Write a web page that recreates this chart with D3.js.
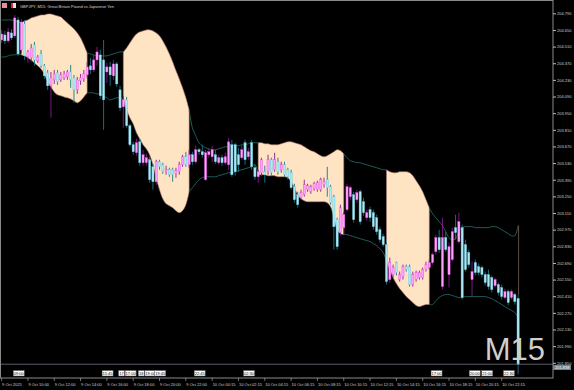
<!DOCTYPE html>
<html>
<head>
<meta charset="utf-8">
<script src="https://cdn.jsdelivr.net/npm/d3@7"></script>
<style>
  body { margin: 0; background: #000; }
  svg { display: block; }
</style>
</head>
<body>
<svg id="chart" width="574" height="390"></svg>
<script>
// GBPJPY M15 candles, 9 Oct 08:00 -> 10 Oct 23:30
const opens = [204.566,204.608,204.558,204.625,204.600,204.734,204.482,204.700,204.423,204.415,
  204.524,204.390,204.448,204.348,204.289,204.180,204.230,204.289,204.230,204.247,
  204.255,204.297,204.247,204.146,204.222,204.238,204.272,204.348,204.314,204.398,
  204.440,204.398,204.297,204.339,204.264,204.364,204.146,204.003,204.062,203.844,
  203.684,203.617,203.709,203.533,203.533,203.558,203.499,203.373,203.541,203.516,
  203.457,203.474,203.474,203.440,203.457,203.516,203.583,203.516,203.600,203.541,
  203.642,203.625,203.390,203.600,203.583,203.600,203.533,203.575,203.533,203.516,
  203.684,203.684,203.600,203.575,203.701,203.583,203.701,203.491,203.415,203.449,
  203.457,203.457,203.558,203.474,203.541,203.474,203.516,203.474,203.449,203.331,
  203.264,203.239,203.264,203.306,203.289,203.314,203.306,203.306,203.348,203.390,
  203.331,203.247,203.054,202.945,202.987,203.138,203.247,203.264,203.222,203.289,
  203.205,203.071,203.138,203.113,203.071,202.970,202.911,202.844,202.550,202.592,
  202.693,202.550,202.575,202.659,202.659,202.508,202.550,202.567,202.567,202.634,
  202.651,202.693,202.785,202.903,202.491,202.903,202.592,202.718,202.987,202.869,
  202.987,202.844,202.777,202.550,202.693,202.659,202.651,202.592,202.592,202.567,
  202.499,202.508,202.483,202.399,202.449,202.399,202.424,202.390];
const highs = [204.650,204.642,204.667,204.658,204.776,204.759,204.742,204.734,204.482,204.532,
  204.549,204.440,204.482,204.364,204.314,204.297,204.314,204.314,204.297,204.306,
  204.314,204.356,204.272,204.255,204.280,204.314,204.381,204.415,204.440,204.507,
  204.482,204.566,204.373,204.381,204.398,204.381,204.180,204.096,204.087,203.860,
  203.709,203.734,203.734,203.642,203.608,203.583,203.524,203.558,203.558,203.533,
  203.508,203.491,203.491,203.491,203.541,203.600,203.625,203.642,203.625,203.676,
  203.659,203.684,203.642,203.650,203.676,203.642,203.600,203.600,203.617,203.743,
  203.726,203.701,203.659,203.676,203.726,203.659,203.726,203.524,203.474,203.575,
  203.508,203.600,203.575,203.617,203.575,203.541,203.541,203.491,203.474,203.356,
  203.289,203.306,203.390,203.356,203.348,203.373,203.382,203.407,203.407,203.499,
  203.348,203.264,203.071,203.180,203.121,203.356,203.340,203.289,203.306,203.306,
  203.239,203.138,203.163,203.138,203.096,202.995,202.936,202.861,202.735,202.676,
  202.701,202.617,202.676,202.676,202.676,202.617,202.626,202.626,202.651,202.701,
  202.718,202.777,202.928,202.970,203.071,202.953,202.861,202.987,203.096,203.113,
  203.012,202.886,202.802,202.701,202.718,202.684,202.668,202.617,202.634,202.584,
  202.567,202.525,202.508,202.474,202.466,202.466,202.441,202.416];
const lows = [204.541,204.532,204.541,204.566,204.583,204.432,204.457,204.398,204.373,204.381,
  204.348,204.373,204.331,204.238,204.146,203.911,204.196,204.188,204.213,204.230,
  204.230,204.163,204.037,204.112,204.188,204.213,204.247,204.280,204.297,204.348,
  204.070,203.810,204.205,204.180,204.230,204.171,203.970,203.827,203.827,203.667,
  203.600,203.592,203.508,203.508,203.508,203.365,203.306,203.348,203.474,203.440,
  203.432,203.415,203.373,203.407,203.432,203.499,203.499,203.491,203.516,203.524,
  203.600,203.575,203.382,203.575,203.541,203.524,203.516,203.508,203.516,203.474,
  203.415,203.424,203.457,203.558,203.516,203.558,203.474,203.390,203.365,203.424,
  203.365,203.432,203.424,203.457,203.432,203.449,203.415,203.390,203.306,203.197,
  203.155,203.222,203.247,203.289,203.272,203.298,203.289,203.289,203.323,203.247,
  203.180,202.802,202.802,202.920,202.928,203.121,203.222,203.029,203.197,203.012,
  203.088,203.046,203.037,202.970,202.928,202.861,202.827,202.508,202.525,202.567,
  202.584,202.533,202.550,202.617,202.491,202.491,202.533,202.550,202.550,202.617,
  202.634,202.676,202.760,202.777,202.466,202.785,202.483,202.701,202.886,202.852,
  202.382,202.617,202.651,202.407,202.584,202.584,202.567,202.499,202.466,202.441,
  202.483,202.416,202.382,202.382,202.332,202.382,202.340,201.752];
const closes = [204.616,204.558,204.633,204.583,204.751,204.448,204.717,204.432,204.465,204.499,
  204.398,204.423,204.348,204.264,204.180,204.247,204.280,204.213,204.272,204.280,
  204.297,204.230,204.146,204.230,204.247,204.280,204.339,204.314,204.398,204.465,
  204.096,204.062,204.339,204.272,204.364,204.196,203.995,204.062,203.844,203.684,
  203.625,203.701,203.533,203.600,203.575,203.390,203.373,203.541,203.499,203.457,
  203.474,203.432,203.432,203.466,203.516,203.583,203.516,203.600,203.541,203.642,
  203.625,203.600,203.617,203.625,203.642,203.541,203.575,203.533,203.583,203.709,
  203.432,203.457,203.516,203.642,203.558,203.625,203.499,203.415,203.457,203.558,
  203.432,203.558,203.449,203.558,203.457,203.516,203.432,203.415,203.323,203.222,
  203.180,203.281,203.348,203.340,203.331,203.356,203.365,203.390,203.373,203.323,
  203.197,202.995,202.827,203.155,203.096,203.331,203.323,203.054,203.281,203.037,
  203.113,203.113,203.071,202.995,202.953,202.886,202.844,202.533,202.693,202.651,
  202.609,202.592,202.659,202.634,202.508,202.592,202.609,202.609,202.634,202.676,
  202.693,202.760,202.903,202.802,202.903,202.802,202.827,202.953,202.945,203.037,
  202.399,202.634,202.676,202.617,202.609,202.609,202.592,202.525,202.491,202.466,
  202.550,202.441,202.407,202.449,202.357,202.449,202.365,201.838];

// envelope indicator, upper / lower line per bar
const upperBand = [204.734,204.734,204.734,204.734,204.726,204.717,
  204.709,204.726,204.734,204.751,204.759,204.768,204.776,204.776,204.784,204.784,204.776,204.768,204.759,204.734,204.709,204.684,204.658,204.625,204.583,204.524,204.457,
  204.448,204.440,204.432,204.432,204.432,204.432,204.440,204.448,204.457,204.465,
  204.465,204.499,204.541,204.583,204.616,204.633,204.642,204.650,204.650,204.642,204.625,204.600,204.558,204.507,204.448,204.381,204.306,204.238,204.163,204.079,203.978,
  203.827,203.760,203.701,203.676,203.659,203.650,203.642,203.642,203.650,203.659,203.667,203.667,203.676,203.676,203.676,203.684,203.684,203.692,203.701,203.701,
  203.701,203.701,203.692,203.692,203.684,203.684,203.684,203.692,203.701,203.709,203.709,203.701,203.692,203.684,203.667,203.650,203.634,203.625,203.608,203.592,203.583,203.592,203.608,203.625,203.642,203.634,203.608,
  203.575,203.550,203.541,203.533,203.533,203.524,203.516,203.508,203.499,203.491,203.482,203.474,
  203.474,203.457,203.449,203.449,203.457,203.457,203.457,203.449,203.424,203.382,203.340,203.289,203.222,203.155,
  203.104,203.071,203.037,203.004,202.953,202.903,202.886,202.894,202.953,202.987,202.995,202.995,202.995,202.987,202.987,202.987,202.987,202.987,202.995,202.995,202.987,202.970,202.953,202.936,202.919,202.919,203.004];
const lowerBand = [204.423,204.423,204.432,204.440,204.440,204.448,
  204.440,204.432,204.415,204.398,204.373,204.348,204.322,204.280,204.213,204.171,204.129,204.104,204.096,204.087,204.079,204.070,204.054,204.037,204.054,204.087,204.121,
  204.121,204.121,204.112,204.112,204.096,204.079,204.062,204.070,204.079,204.079,
  204.062,203.978,203.911,203.860,203.785,203.734,203.684,203.650,203.600,203.516,203.407,203.306,203.230,203.188,203.172,203.155,203.130,203.113,203.130,203.180,203.289,
  203.323,203.356,203.390,203.407,203.415,203.415,203.415,203.415,203.424,203.432,203.440,203.449,203.449,203.457,203.466,203.474,203.482,203.491,203.499,203.516,
  203.432,203.432,203.432,203.424,203.424,203.424,203.415,203.415,203.415,203.407,203.373,203.323,203.264,203.230,203.214,203.205,203.205,203.205,203.205,203.205,203.205,203.197,203.163,203.071,202.970,202.937,202.928,
  202.928,202.920,202.911,202.903,202.894,202.886,202.878,202.869,202.852,202.836,202.810,202.777,
  202.701,202.634,202.567,202.516,202.474,202.441,202.407,202.382,202.357,202.332,202.323,202.332,202.340,202.340,
  202.340,202.373,202.399,202.416,202.424,202.424,202.416,202.407,202.399,202.399,202.407,202.407,202.407,202.407,202.407,202.407,202.407,202.399,202.390,202.373,202.357,202.340,202.323,202.306,202.290,202.273,202.231];

// shaded spans of the indicator (bar index from / to)
const shadeFrom = [6, 37, 78, 117];
const shadeTo = [26, 57, 104, 130];

const priceTicks = [204.790,204.650,204.510,204.370,204.230,204.090,203.950,203.810,203.670,203.530,203.390,
  203.250,203.110,202.970,202.830,202.690,202.550,202.410,202.270,202.130,201.990,201.850];
const timeTickBars = [0,8,16,24,32,40,48,56,64,72,80,88,96,104,112,120,128,136,144,152];
const timeTickLabels = ["9 Oct 2025","9 Oct 10:00","9 Oct 12:00","9 Oct 14:00","9 Oct 16:00","9 Oct 18:00",
  "9 Oct 20:00","9 Oct 22:00","10 Oct 00:15","10 Oct 02:15","10 Oct 04:15","10 Oct 06:15","10 Oct 08:15",
  "10 Oct 10:15","10 Oct 12:15","10 Oct 14:15","10 Oct 16:15","10 Oct 18:15","10 Oct 20:15","10 Oct 22:15"];

// vertical line objects, labels at the bottom (the cut ones are partly hidden by the next)
const markerBars = [4, 31, 36, 38, 42, 44, 47, 59, 74, 131, 142.6, 146.4, 153];
const markerLabels = ["09:00","15:45","17","17:00","18","19:00","19:45","22:45","02:30","17:00","20:00","21:00","22:30"];

const bidPrice = 201.838;
const titleText = "GBPJPY, M15:  Great Britain Pound vs Japanese Yen";

const W = 574, H = 390;
const plotRight = 553, plotBottom = 378;
const font = "'Liberation Sans', Arial, sans-serif";

const svg = d3.select("#chart");
svg.append("rect").attr("width", W).attr("height", H).attr("fill", "#000");

const x = d3.scaleLinear().domain([0, 157]).range([1.6, 518.1]);
const y = d3.scaleLinear().domain([201.823, 204.902]).range([366, 0]);

const plot = svg.append("g");

// shaded envelope spans
const area = d3.area()
  .x(i => x(i))
  .y0(i => y(lowerBand[i]))
  .y1(i => y(upperBand[i]))
  .curve(d3.curveCatmullRom);

shadeFrom.forEach((s, k) => {
  plot.append("path")
    .datum(d3.range(s, shadeTo[k] + 1))
    .attr("d", area)
    .attr("fill", "#ffe4c4")
    .attr("stroke", "#b07a70")
    .attr("stroke-width", 0.6);
});

// band lines where not shaded
let segments = [];
let prev = 0;
shadeFrom.forEach((s, k) => {
  segments.push(d3.range(prev, s + 1));
  prev = shadeTo[k];
});
segments.push(d3.range(prev, closes.length));

const bandLine = key => d3.line()
  .x(i => x(i))
  .y(i => y(key[i]))
  .curve(d3.curveCatmullRom);

segments.forEach(seg => {
  [upperBand, lowerBand].forEach(b => {
    plot.append("path")
      .datum(seg)
      .attr("d", bandLine(b))
      .attr("fill", "none")
      .attr("stroke", "#1f5e5a")
      .attr("stroke-width", 1);
  });
});

// vertical line at last bar
const last = closes.length - 1;
plot.append("line")
  .attr("x1", x(last) + 0.5).attr("x2", x(last) + 0.5)
  .attr("y1", y(upperBand[last])).attr("y2", y(highs[last]))
  .attr("stroke", "#5a5040").attr("stroke-width", 1);

// candles
const bodyW = 2.2;
const candles = plot.selectAll("g.candle")
  .data(d3.range(closes.length))
  .enter().append("g")
  .attr("class", "candle");

candles.append("line")
  .attr("x1", i => x(i)).attr("x2", i => x(i))
  .attr("y1", i => y(highs[i])).attr("y2", i => y(lows[i]))
  .attr("stroke", i => closes[i] >= opens[i] ? "#8a1a92" : "#17788a")
  .attr("stroke-width", 0.9);

candles.append("rect")
  .attr("x", i => x(i) - bodyW / 2)
  .attr("width", bodyW)
  .attr("y", i => y(Math.max(opens[i], closes[i])))
  .attr("height", i => Math.max(0.8, Math.abs(y(opens[i]) - y(closes[i]))))
  .attr("fill", i => closes[i] >= opens[i] ? "#ffa0ff" : "#aee6f2")
  .attr("stroke", i => closes[i] >= opens[i] ? "#e050e0" : "#6cc6dc")
  .attr("stroke-width", 0.4);

// bid line
svg.append("line")
  .attr("x1", 0).attr("x2", plotRight)
  .attr("y1", y(bidPrice)).attr("y2", y(bidPrice))
  .attr("stroke", "#6e7680").attr("stroke-width", 0.8);

// frame
svg.append("rect")
  .attr("x", 0.5).attr("y", 0.5)
  .attr("width", plotRight - 0.5).attr("height", plotBottom - 0.5)
  .attr("fill", "none").attr("stroke", "#8a8a8a").attr("stroke-width", 1);

// price axis
const yAxis = d3.axisRight(y)
  .tickValues(priceTicks)
  .tickFormat(d3.format(".3f"))
  .tickSize(3)
  .tickPadding(1);

const ya = svg.append("g")
  .attr("transform", `translate(${plotRight},0)`)
  .call(yAxis);
ya.select(".domain").remove();
ya.selectAll("line").attr("stroke", "#bbb");
ya.selectAll("text")
  .attr("fill", "#d0d0d0")
  .style("font-family", font)
  .style("font-size", "4px");

// bid price box, just under the last tick label
const by = y(bidPrice);
svg.append("rect")
  .attr("x", plotRight).attr("y", by + 0.6)
  .attr("width", 18).attr("height", 5.2)
  .attr("fill", "#708090");
svg.append("text")
  .attr("x", plotRight + 2).attr("y", by + 4.8)
  .attr("fill", "#fff")
  .style("font-family", font)
  .style("font-size", "4px")
  .text(d3.format(".3f")(bidPrice));

// time axis
const ta = svg.append("g");
timeTickBars.forEach((b, k) => {
  const tx = x(b);
  ta.append("line")
    .attr("x1", tx).attr("x2", tx)
    .attr("y1", plotBottom).attr("y2", plotBottom + 3)
    .attr("stroke", "#bbb").attr("stroke-width", 0.6);
  ta.append("text")
    .attr("x", tx + 0.5).attr("y", plotBottom + 7.5)
    .attr("fill", "#d0d0d0")
    .style("font-family", font)
    .style("font-size", "4px")
    .text(timeTickLabels[k]);
});

// vertical line labels
markerBars.forEach((b, k) => {
  const mx = x(b) - 1.5;
  const bw = markerLabels[k].length > 2 ? 11 : 6;
  svg.append("rect")
    .attr("x", mx).attr("y", 370.5)
    .attr("width", bw).attr("height", 5.5)
    .attr("fill", "#fff").attr("stroke", "#555").attr("stroke-width", 0.5);
  svg.append("text")
    .attr("x", mx + bw / 2).attr("y", 374.6)
    .attr("text-anchor", "middle")
    .attr("fill", "#000")
    .style("font-family", font)
    .style("font-size", "4px")
    .text(markerLabels[k]);
});

// header
svg.append("rect").attr("x", 2).attr("y", 3).attr("width", 5).attr("height", 5).attr("fill", "#e89090");
svg.append("rect").attr("x", 11).attr("y", 3).attr("width", 5).attr("height", 5).attr("fill", "#f0e0e0");
svg.append("rect").attr("x", 11).attr("y", 3).attr("width", 2).attr("height", 5).attr("fill", "#d03030");
svg.append("text")
  .attr("x", 20).attr("y", 7.5)
  .attr("fill", "#d8d8d8")
  .style("font-family", font)
  .style("font-size", "4px")
  .text(titleText);

// timeframe watermark
svg.append("text")
  .attr("x", 545).attr("y", 360)
  .attr("text-anchor", "end")
  .attr("fill", "#cfcfcf")
  .style("font-family", font)
  .style("font-size", "31px")
  .text("M15");
</script>
</body>
</html>
